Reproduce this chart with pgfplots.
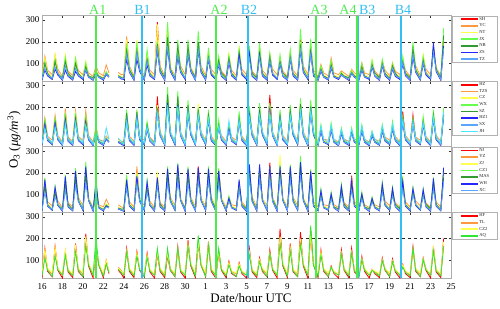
\documentclass[border=0pt]{standalone}
\usepackage{fontspec}
\setmainfont{Liberation Serif}
\usepackage{pgfplots}
\usepackage{pgfplotstable}
\pgfplotsset{compat=1.18}
\definecolor{cR}{rgb}{1,0,0}
\definecolor{cO}{rgb}{1,0.6,0.25}
\definecolor{cY}{rgb}{1,1,0.3}
\definecolor{cLG}{rgb}{0.4,1,0.3}
\definecolor{cDG}{rgb}{0.2,0.6,0.2}
\definecolor{cB}{rgb}{0.15,0.15,1}
\definecolor{cLB}{rgb}{0.35,0.65,1}
\definecolor{cC}{rgb}{0.3,0.9,1}
\definecolor{cG}{rgb}{0.2,0.9,0.2}
\definecolor{cA}{rgb}{0.3,0.92,0.3}
\definecolor{cBl}{rgb}{0.2,0.75,0.95}

\pgfplotstableread{
x SH YC NT JX NB ZS TZ
16.00 30 45 36 28 33 25 29
16.28 120 135 125 110 100 70 80
16.55 55 70 60 52 56 44 50
17.00 34 50 40 32 30 28 33
17.28 130 140 145 120 110 75 85
17.55 60 75 58 56 52 48 55
18.00 28 42 33 35 36 24 27
18.28 125 120 142 130 110 70 90
18.55 50 66 55 48 58 42 46
19.00 30 45 36 28 33 25 29
19.28 110 120 130 125 100 65 80
19.55 55 70 60 52 56 44 50
20.00 34 50 40 32 30 28 33
20.28 90 100 112 105 85 70 75
20.55 45 58 48 42 44 38 40
21.00 28 42 33 35 36 24 27
21.28 60 90 65 70 60 55 60
21.55 45 58 48 42 44 38 40
22.00 30 45 36 28 33 25 29
22.28 55 95 60 65 55 50 55
22.55 45 58 48 42 44 38 40
23.10 nan nan nan nan nan nan nan
23.46 45 60 50 45 45 40 42
23.75 35 50 40 35 38 30 33
24.00 34 50 40 32 30 28 33
24.28 180 225 210 190 160 120 140
24.55 75 90 80 78 72 60 65
25.00 28 42 33 35 36 24 27
25.28 170 180 210 200 160 120 150
25.55 80 85 85 70 76 64 70
26.00 30 45 36 28 33 25 29
26.28 130 130 150 165 120 95 110
26.55 55 70 60 52 56 44 50
27.00 34 50 40 32 30 28 33
27.28 290 240 280 200 190 160 170
27.55 75 90 80 78 72 60 65
28.00 28 42 33 35 36 24 27
28.28 230 240 280 290 220 170 180
28.55 80 85 85 70 76 64 70
29.00 30 45 36 28 33 25 29
29.28 150 160 170 210 180 130 140
29.55 75 90 80 78 72 60 65
30.00 34 50 40 32 30 28 33
30.28 160 150 170 210 180 140 145
30.55 80 85 85 70 76 64 70
31.00 28 42 33 35 36 24 27
31.28 180 170 190 250 200 160 165
31.55 75 90 80 78 72 60 65
32.00 30 45 36 28 33 25 29
32.28 140 150 160 172 130 120 125
32.55 60 75 58 56 52 48 55
33.00 34 50 40 32 30 28 33
33.28 110 120 130 135 115 95 100
33.55 50 66 55 48 58 42 46
34.00 28 42 33 35 36 24 27
34.28 120 130 150 140 125 105 110
34.55 55 70 60 52 56 44 50
35.00 30 45 36 28 33 25 29
35.28 150 160 180 170 150 140 120
35.55 60 75 58 56 52 48 55
36.00 34 50 40 32 30 28 33
36.28 160 150 170 180 140 150 125
36.55 50 66 55 48 58 42 46
37.00 28 42 33 35 36 24 27
37.28 160 170 175 195 150 140 130
37.55 55 70 60 52 56 44 50
38.00 30 45 36 28 33 25 29
38.28 140 130 145 150 130 110 115
38.55 60 75 58 56 52 48 55
39.00 34 50 40 32 30 28 33
39.28 120 125 130 142 110 100 105
39.55 50 66 55 48 58 42 46
40.00 28 42 33 35 36 24 27
40.28 150 140 155 165 130 120 125
40.55 55 70 60 52 56 44 50
41.00 30 45 36 28 33 25 29
41.28 210 190 200 258 180 160 165
41.55 75 90 80 78 72 60 65
42.00 34 50 40 32 30 28 33
42.28 170 175 180 215 160 150 145
42.55 55 70 60 52 56 44 50
43.00 28 42 33 35 36 24 27
43.28 80 97 85 90 75 65 70
43.55 45 58 48 42 44 38 40
44.00 30 45 36 28 33 25 29
44.28 100 127 110 115 95 80 85
44.55 45 58 48 42 44 38 40
45.00 34 50 40 32 30 28 33
45.28 55 67 60 60 55 48 50
45.55 45 58 48 42 44 38 40
46.00 28 42 33 35 36 24 27
46.28 65 75 70 68 60 55 58
46.55 45 58 48 42 44 38 40
47.00 30 45 36 28 33 25 29
47.28 90 105 95 100 85 70 75
47.55 45 58 48 42 44 38 40
48.00 34 50 40 32 30 28 33
48.28 100 110 120 115 95 85 90
48.55 50 66 55 48 58 42 46
49.00 28 42 33 35 36 24 27
49.28 105 115 110 120 100 90 95
49.55 55 70 60 52 56 44 50
50.00 30 45 36 28 33 25 29
50.28 95 105 100 100 90 75 80
50.55 50 66 55 48 58 42 46
51.00 34 50 40 32 30 28 33
51.28 110 120 125 135 110 100 105
51.55 55 70 60 52 56 44 50
52.00 28 42 33 35 36 24 27
52.28 150 140 160 200 170 130 140
52.55 75 90 80 78 72 60 65
53.00 30 45 36 28 33 25 29
53.28 120 130 142 135 115 100 105
53.55 60 75 58 56 52 48 55
54.00 34 50 40 32 30 28 33
54.28 170 160 175 185 160 195 150
54.55 80 85 85 70 76 64 70
55.00 28 42 33 35 36 24 27
55.28 200 210 220 262 230 180 170
}\tA

\pgfplotstableread{
x HZ TZS CZ WX SZ HZb SX JH
16.00 30 45 36 30 33 27 30 36
16.28 140 152 135 145 130 120 110 100
16.55 55 68 60 55 56 48 52 62
17.00 34 50 40 34 30 30 33 40
17.28 140 165 140 150 135 125 115 105
17.55 60 72 58 58 52 52 56 66
18.00 28 42 33 36 36 25 28 33
18.28 160 195 165 175 150 140 130 120
18.55 50 64 55 50 58 45 48 58
19.00 30 45 36 30 33 27 30 36
19.28 160 185 170 175 150 140 135 125
19.55 55 68 60 55 56 48 52 62
20.00 34 50 40 34 30 30 33 40
20.28 140 185 150 160 140 130 120 120
20.55 60 72 58 58 52 52 56 66
21.00 28 42 33 36 36 25 28 33
21.28 90 115 100 95 90 85 80 100
21.55 45 55 48 44 45 40 42 55
22.00 30 45 36 30 33 27 30 36
22.28 60 70 65 60 55 55 60 107
22.55 45 55 48 44 45 40 42 55
23.10 nan nan nan nan nan nan nan nan
23.46 45 55 50 45 45 40 45 60
23.75 35 45 40 35 38 32 35 45
24.00 28 42 33 36 36 25 28 33
24.28 160 150 170 190 175 140 145 130
24.55 55 68 60 55 56 48 52 62
25.00 30 45 36 30 33 27 30 36
25.28 170 160 175 190 180 150 155 140
25.55 60 72 58 58 52 52 56 66
26.00 34 50 40 34 30 30 33 40
26.28 120 115 125 137 120 100 105 110
26.55 50 64 55 50 58 45 48 58
27.00 28 42 33 36 36 25 28 33
27.28 250 200 210 200 195 180 175 170
27.55 80 90 85 82 78 70 72 85
28.00 30 45 36 30 33 27 30 36
28.28 240 230 250 294 260 220 210 200
28.55 85 85 90 76 80 74 78 90
29.00 34 50 40 34 30 30 33 40
29.28 230 220 240 275 250 210 200 205
29.55 80 90 85 82 78 70 72 85
30.00 28 42 33 36 36 25 28 33
30.28 190 180 200 235 210 170 175 180
30.55 85 85 90 76 80 74 78 90
31.00 30 45 36 30 33 27 30 36
31.28 190 180 220 200 190 165 160 170
31.55 80 90 85 82 78 70 72 85
32.00 34 50 40 34 30 30 33 40
32.28 160 150 170 190 165 140 145 150
32.55 55 68 60 55 56 48 52 62
33.00 28 42 33 36 36 25 28 33
33.28 120 115 125 145 120 110 105 115
33.55 60 72 58 58 52 52 56 66
34.00 30 45 36 30 33 27 30 36
34.28 110 100 115 120 105 100 95 140
34.55 50 64 55 50 58 45 48 58
35.00 34 50 40 34 30 30 33 40
35.28 150 140 160 182 150 135 130 140
35.55 55 68 60 55 56 48 52 62
36.00 28 42 33 36 36 25 28 33
36.28 180 165 185 205 175 160 150 155
36.55 80 90 85 82 78 70 72 85
37.00 30 45 36 30 33 27 30 36
37.28 190 175 195 220 185 170 160 165
37.55 85 85 90 76 80 74 78 90
38.00 34 50 40 34 30 30 33 40
38.28 257 200 210 220 200 180 170 175
38.55 80 90 85 82 78 70 72 85
39.00 28 42 33 36 36 25 28 33
39.28 160 150 165 190 160 150 140 145
39.55 60 72 58 58 52 52 56 66
40.00 30 45 36 30 33 27 30 36
40.28 180 170 190 212 185 165 160 165
40.55 85 85 90 76 80 74 78 90
41.00 34 50 40 34 30 30 33 40
41.28 210 200 220 242 215 190 180 185
41.55 80 90 85 82 78 70 72 85
42.00 28 42 33 36 36 25 28 33
42.28 200 190 210 235 205 180 175 185
42.55 85 85 90 76 80 74 78 90
43.00 30 45 36 30 33 27 30 36
43.28 100 95 105 122 100 90 95 115
43.55 45 55 48 44 45 40 42 55
44.00 34 50 40 34 30 30 33 40
44.28 110 105 115 130 105 95 100 120
44.55 45 55 48 44 45 40 42 55
45.00 28 42 33 36 36 25 28 33
45.28 90 85 95 107 90 80 85 100
45.55 45 55 48 44 45 40 42 55
46.00 30 45 36 30 33 27 30 36
46.28 90 80 95 107 90 85 80 100
46.55 45 55 48 44 45 40 42 55
47.00 34 50 40 34 30 30 33 40
47.28 105 95 110 122 100 90 95 115
47.55 45 55 48 44 45 40 42 55
48.00 28 42 33 36 36 25 28 33
48.28 80 75 85 92 80 70 75 90
48.55 45 55 48 44 45 40 42 55
49.00 30 45 36 30 33 27 30 36
49.28 100 95 110 122 105 90 95 115
49.55 50 64 55 50 58 45 48 58
50.00 34 50 40 34 30 30 33 40
50.28 115 105 120 137 110 100 105 125
50.55 55 68 60 55 56 48 52 62
51.00 28 42 33 36 36 25 28 33
51.28 182 140 150 160 145 130 135 140
51.55 60 72 58 58 52 52 56 66
52.00 30 45 36 30 33 27 30 36
52.28 167 130 145 150 140 125 120 135
52.55 50 64 55 50 58 45 48 58
53.00 34 50 40 34 30 30 33 40
53.28 140 130 150 160 135 120 125 130
53.55 55 68 60 55 56 48 52 62
54.00 28 42 33 36 36 25 28 33
54.28 160 150 170 190 165 145 150 155
54.55 60 72 58 58 52 52 56 66
55.00 30 45 36 30 33 27 30 36
55.28 170 160 180 197 175 165 160 180
}\tB

\pgfplotstableread{
x NJ YZ ZJ CZa MAS WH XC
16.00 30 45 36 30 33 27 30
16.28 160 150 165 178 140 170 110
16.55 55 68 60 55 56 48 52
17.00 34 50 40 34 30 30 33
17.28 120 130 125 140 110 135 90
17.55 60 72 58 58 52 52 56
18.00 28 42 33 36 36 25 28
18.28 160 170 175 192 150 185 120
18.55 50 64 55 50 58 45 48
19.00 30 45 36 30 33 27 30
19.28 190 200 210 222 170 210 140
19.55 80 90 85 82 78 70 72
20.00 34 50 40 34 30 30 33
20.28 200 210 220 252 190 230 150
20.55 85 85 90 76 80 74 78
21.00 28 42 33 36 36 25 28
21.28 130 120 135 140 110 170 100
21.55 45 55 48 44 45 40 42
22.00 30 45 36 30 33 27 30
22.28 55 80 60 55 50 50 45
22.55 45 55 48 44 45 40 42
23.10 nan nan nan nan nan nan nan
23.46 40 55 45 40 40 35 38
23.75 32 45 38 33 35 30 30
24.00 28 42 33 36 36 25 28
24.28 160 170 180 192 150 170 130
24.55 55 68 60 55 56 48 52
25.00 30 45 36 30 33 27 30
25.28 180 230 200 190 170 185 150
25.55 80 90 85 82 78 70 72
26.00 34 50 40 34 30 30 33
26.28 140 150 145 170 130 160 110
26.55 60 72 58 58 52 52 56
27.00 28 42 33 36 36 25 28
27.28 170 180 207 175 160 180 140
27.55 50 64 55 50 58 45 48
28.00 30 45 36 30 33 27 30
28.28 190 200 210 230 180 220 150
28.55 80 90 85 82 78 70 72
29.00 34 50 40 34 30 30 33
29.28 200 210 220 245 190 240 160
29.55 85 85 90 76 80 74 78
30.00 28 42 33 36 36 25 28
30.28 210 190 200 230 180 220 150
30.55 80 90 85 82 78 70 72
31.00 30 45 36 30 33 27 30
31.28 230 200 210 220 190 225 160
31.55 85 85 90 76 80 74 78
32.00 34 50 40 34 30 30 33
32.28 200 190 210 230 180 220 160
32.55 80 90 85 82 78 70 72
33.00 28 42 33 36 36 25 28
33.28 215 190 200 222 170 210 150
33.55 85 85 90 76 80 74 78
34.00 30 45 36 30 33 27 30
34.28 80 90 85 95 75 85 70
34.55 45 55 48 44 45 40 42
35.00 34 50 40 34 30 30 33
35.28 150 140 145 160 130 170 120
35.55 55 68 60 55 56 48 52
36.00 28 42 33 36 36 25 28
36.28 220 200 210 230 190 240 170
36.55 80 90 85 82 78 70 72
37.00 30 45 36 30 33 27 30
37.28 210 200 220 230 190 240 170
37.55 85 85 90 76 80 74 78
38.00 34 50 40 34 30 30 33
38.28 248 210 220 230 200 230 180
38.55 80 90 85 82 78 70 72
39.00 28 42 33 36 36 25 28
39.28 220 210 285 240 200 230 180
39.55 85 85 90 76 80 74 78
40.00 30 45 36 30 33 27 30
40.28 210 200 220 240 190 230 170
40.55 80 90 85 82 78 70 72
41.00 34 50 40 34 30 30 33
41.28 240 230 250 278 220 250 190
41.55 85 85 90 76 80 74 78
42.00 28 42 33 36 36 25 28
42.28 190 180 200 218 170 210 150
42.55 55 68 60 55 56 48 52
43.00 30 45 36 30 33 27 30
43.28 110 105 115 128 100 120 90
43.55 45 55 48 44 45 40 42
44.00 34 50 40 34 30 30 33
44.28 100 95 105 113 90 105 80
44.55 45 55 48 44 45 40 42
45.00 28 42 33 36 36 25 28
45.28 130 125 140 150 115 140 100
45.55 50 64 55 50 58 45 48
46.00 30 45 36 30 33 27 30
46.28 188 150 160 170 140 165 120
46.55 55 68 60 55 56 48 52
47.00 34 50 40 34 30 30 33
47.28 100 95 105 113 90 105 80
47.55 45 55 48 44 45 40 42
48.00 28 42 33 36 36 25 28
48.28 80 75 85 90 70 85 65
48.55 45 55 48 44 45 40 42
49.00 30 45 36 30 33 27 30
49.28 140 135 145 158 120 150 110
49.55 60 72 58 58 52 52 56
50.00 34 50 40 34 30 30 33
50.28 120 115 125 135 105 130 95
50.55 50 64 55 50 58 45 48
51.00 28 42 33 36 36 25 28
51.28 160 155 188 170 140 165 125
51.55 55 68 60 55 56 48 52
52.00 30 45 36 30 33 27 30
52.28 120 125 130 135 110 130 100
52.55 60 72 58 58 52 52 56
53.00 34 50 40 34 30 30 33
53.28 110 115 120 128 100 125 95
53.55 50 64 55 50 58 45 48
54.00 28 42 33 36 36 25 28
54.28 160 150 165 180 140 175 125
54.55 55 68 60 55 56 48 52
55.00 30 45 36 30 33 27 30
55.28 200 190 210 215 180 225 160
}\tC

\pgfplotstableread{
x HF TL CZb AQ
16.00 22 35 40 30
16.28 156 140 150 110
16.55 50 60 65 55
17.00 26 38 44 27
17.28 164 150 160 120
17.55 55 64 62 58
18.00 20 32 38 33
18.28 140 130 149 125
18.55 48 58 60 52
19.00 22 35 40 30
19.28 178 150 165 140
19.55 50 60 65 55
20.00 26 38 44 27
20.28 223 200 210 170
20.55 75 85 88 80
21.00 20 32 38 33
21.28 160 150 170 208
21.55 80 82 90 78
22.00 22 35 40 30
22.28 90 104 100 85
22.55 40 50 52 45
23.10 nan nan nan nan
23.46 55 70 65 60
23.75 40 55 50 45
24.00 20 32 38 33
24.28 156 135 145 140
24.55 50 60 65 55
25.00 22 35 40 30
25.28 141 125 135 120
25.55 55 64 62 58
26.00 26 38 44 27
26.28 134 120 125 115
26.55 48 58 60 52
27.00 20 32 38 33
27.28 130 120 140 156
27.55 50 60 65 55
28.00 22 35 40 30
28.28 120 125 135 156
28.55 55 64 62 58
29.00 26 38 44 27
29.28 164 140 150 155
29.55 48 58 60 52
30.00 20 32 38 33
30.28 193 160 175 165
30.55 75 85 88 80
31.00 22 35 40 30
31.28 180 170 190 215
31.55 80 82 90 78
32.00 26 38 44 27
32.28 186 160 175 170
32.55 50 60 65 55
33.00 20 32 38 33
33.28 140 130 145 156
33.55 55 64 62 58
34.00 22 35 40 30
34.28 97 85 90 80
34.55 40 50 52 45
35.00 26 38 44 27
35.28 90 80 85 75
35.55 40 50 52 45
36.00 20 32 38 33
36.28 156 130 140 125
36.55 48 58 60 52
37.00 22 35 40 30
37.28 112 100 105 95
37.55 50 60 65 55
38.00 26 38 44 27
38.28 149 125 135 130
38.55 55 64 62 58
39.00 20 32 38 33
39.28 245 190 210 180
39.55 75 85 88 80
40.00 22 35 40 30
40.28 178 150 160 145
40.55 48 58 60 52
41.00 26 38 44 27
41.28 230 180 200 175
41.55 75 85 88 80
42.00 20 32 38 33
42.28 240 200 220 260
42.55 80 82 90 78
43.00 22 35 40 30
43.28 149 130 140 125
43.55 50 60 65 55
44.00 26 38 44 27
44.28 75 65 70 70
44.55 40 50 52 45
45.00 20 32 38 33
45.28 149 125 135 130
45.55 55 64 62 58
46.00 22 35 40 30
46.28 156 130 140 135
46.55 48 58 60 52
47.00 26 38 44 27
47.28 119 100 110 105
47.55 50 60 65 55
48.00 20 32 38 33
48.28 60 55 60 55
48.55 40 50 52 45
49.00 22 35 40 30
49.28 112 95 105 100
49.55 55 64 62 58
50.00 26 38 44 27
50.28 107 90 100 95
50.55 48 58 60 52
51.00 20 32 38 33
51.28 82 75 80 70
51.55 40 50 52 45
52.00 22 35 40 30
52.28 164 140 150 155
52.55 50 60 65 55
53.00 26 38 44 27
53.28 112 100 110 105
53.55 55 64 62 58
54.00 20 32 38 33
54.28 164 150 160 145
54.55 48 58 60 52
55.00 22 35 40 30
55.28 200 170 185 165
}\tD

\pgfplotsset{
  panel/.style={
    scale only axis, width=409pt, height=65.6pt,
    xmin=16, xmax=56, ymin=20, ymax=320,
    xtick={16,18,...,56}, ytick={100,200,300},
    xticklabels={},
    tick align=inside, xtick pos=both, ytick pos=both, yticklabel pos=left,
    major tick length=2.5pt,
    axis line style={draw=gray!65, line width=1pt},
    tick style={draw=gray!40!black, line width=0.5pt},
    /pgf/number format/assume math mode=true,
    ticklabel style={font=\fontsize{9}{9}\selectfont},
    yticklabel style={xshift=1pt},
    xticklabel style={yshift=-2pt},
    unbounded coords=jump,
    clip mode=individual,
    legend style={at={(1,1)}, xshift=1pt, anchor=north west, draw=gray!60, line width=0.6pt, fill=white,
      font=\fontsize{4.6}{5}\selectfont, inner xsep=0pt, inner ysep=0pt, row sep=0pt, column sep=0pt,
      nodes={inner sep=0pt, minimum height=6.67pt, text=black!85, draw=none}},
    legend cell align=left,
    legend image code/.code={\path[draw=none,fill=none] (0pt,-2pt) rectangle (27pt,2pt); \draw[#1, line width=1.8pt] (8.7pt,0pt) -- (25.4pt,0pt);},
    every axis plot/.append style={line width=0.8pt},
  }
}
\newcommand{\refline}{\addplot[black!85, dashed, line width=0.6pt, forget plot] coordinates {(16,200) (56,200)};}
\newcommand{\lgd}[1]{\addlegendentry{\makebox[18pt][l]{#1}}}

\begin{document}
\begin{tikzpicture}
\useasboundingbox (0,0) rectangle (500pt,308pt);

\begin{axis}[panel, at={(42pt,226.8pt)}, anchor=south west]
\refline
\addplot[cR] table[x=x,y=SH]{\tA}; \lgd{SH}
\addplot[cO] table[x=x,y=YC]{\tA}; \lgd{YC}
\addplot[cY] table[x=x,y=NT]{\tA}; \lgd{NT}
\addplot[cLG] table[x=x,y=JX]{\tA}; \lgd{JX}
\addplot[cDG] table[x=x,y=NB]{\tA}; \lgd{NB}
\addplot[cB] table[x=x,y=ZS]{\tA}; \lgd{ZS}
\addplot[cLB] table[x=x,y=TZ]{\tA}; \lgd{TZ}
\coordinate (t1) at (axis cs:21.25,320);
\coordinate (t2) at (axis cs:25.75,320);
\coordinate (t3) at (axis cs:33.0,320);
\coordinate (t4) at (axis cs:36.15,320);
\coordinate (t5) at (axis cs:42.8,320);
\coordinate (t6) at (axis cs:46.83,320);
\coordinate (t7) at (axis cs:46.94,320);
\coordinate (t8) at (axis cs:51.1,320);
\node[anchor=south, text=cA, font=\fontsize{14}{14}\selectfont, inner sep=0.5pt] at (axis cs:21.45,320) {A1};
\node[anchor=south, text=cBl, font=\fontsize{14}{14}\selectfont, inner sep=0.5pt] at (axis cs:25.83,320) {B1};
\node[anchor=south, text=cA, font=\fontsize{14}{14}\selectfont, inner sep=0.5pt] at (axis cs:33.31,320) {A2};
\node[anchor=south, text=cBl, font=\fontsize{14}{14}\selectfont, inner sep=0.5pt] at (axis cs:36.24,320) {B2};
\node[anchor=south, text=cA, font=\fontsize{14}{14}\selectfont, inner sep=0.5pt] at (axis cs:43.09,320) {A3};
\node[anchor=south east, text=cA, font=\fontsize{14}{14}\selectfont, inner sep=0.5pt] at (axis cs:46.83,320) {A4};
\node[anchor=south west, text=cBl, font=\fontsize{14}{14}\selectfont, inner sep=0.5pt] at (axis cs:46.94,320) {B3};
\node[anchor=south, text=cBl, font=\fontsize{14}{14}\selectfont, inner sep=0.5pt] at (axis cs:51.31,320) {B4};
\end{axis}

\begin{axis}[panel, at={(42pt,161.2pt)}, anchor=south west]
\refline
\addplot[cR] table[x=x,y=HZ]{\tB}; \lgd{HZ}
\addplot[cO] table[x=x,y=TZS]{\tB}; \lgd{TZS}
\addplot[cY] table[x=x,y=CZ]{\tB}; \lgd{CZ}
\addplot[cLG] table[x=x,y=WX]{\tB}; \lgd{WX}
\addplot[cDG] table[x=x,y=SZ]{\tB}; \lgd{SZ}
\addplot[cB] table[x=x,y=HZb]{\tB}; \lgd{HZ1}
\addplot[cLB] table[x=x,y=SX]{\tB}; \lgd{SX}
\addplot[cC] table[x=x,y=JH]{\tB}; \lgd{JH}
\end{axis}

\begin{axis}[panel, at={(42pt,95.6pt)}, anchor=south west]
\refline
\addplot[cR] table[x=x,y=NJ]{\tC}; \lgd{NJ}
\addplot[cO] table[x=x,y=YZ]{\tC}; \lgd{YZ}
\addplot[cY] table[x=x,y=ZJ]{\tC}; \lgd{ZJ}
\addplot[cLG] table[x=x,y=CZa]{\tC}; \lgd{CZ1}
\addplot[cDG] table[x=x,y=MAS]{\tC}; \lgd{MAS}
\addplot[cB] table[x=x,y=WH]{\tC}; \lgd{WH}
\addplot[cLB] table[x=x,y=XC]{\tC}; \lgd{XC}
\end{axis}

\begin{axis}[panel, at={(42pt,30pt)}, anchor=south west,
  xticklabels={16,18,20,22,24,26,28,30,1,3,5,7,9,11,13,15,17,19,21,23,25}]
\refline
\addplot[cR] table[x=x,y=HF]{\tD}; \lgd{HF}
\addplot[cO] table[x=x,y=TL]{\tD}; \lgd{TL}
\addplot[cY] table[x=x,y=CZb]{\tD}; \lgd{CZ2}
\addplot[cG] table[x=x,y=AQ]{\tD}; \lgd{AQ}
\coordinate (b1) at (axis cs:21.25,20);
\coordinate (b2) at (axis cs:25.75,20);
\coordinate (b3) at (axis cs:33.0,20);
\coordinate (b4) at (axis cs:36.15,20);
\coordinate (b5) at (axis cs:42.8,20);
\coordinate (b6) at (axis cs:46.83,20);
\coordinate (b7) at (axis cs:46.94,20);
\coordinate (b8) at (axis cs:51.1,20);
\end{axis}

\draw[cA, line width=1.9pt] (t1) -- (b1);
\draw[cBl, line width=1.9pt] (t2) -- (b2);
\draw[cA, line width=1.9pt] (t3) -- (b3);
\draw[cBl, line width=1.7pt] (t4) -- (b4);
\draw[cA, line width=1.9pt] (t5) -- (b5);
\draw[cA, line width=1.9pt] (t6) -- (b6);
\draw[cBl, line width=1.7pt] (t7) -- (b7);
\draw[cBl, line width=1.7pt] (t8) -- (b8);

\node[rotate=90, font=\fontsize{13}{13}\selectfont] at (14pt,168pt) {O\textsubscript{3} (\textit{μg/m}\textsuperscript{3})};
\node[font=\fontsize{13}{13}\selectfont] at (251pt,10pt) {Date/hour UTC};
\end{tikzpicture}
\end{document}
